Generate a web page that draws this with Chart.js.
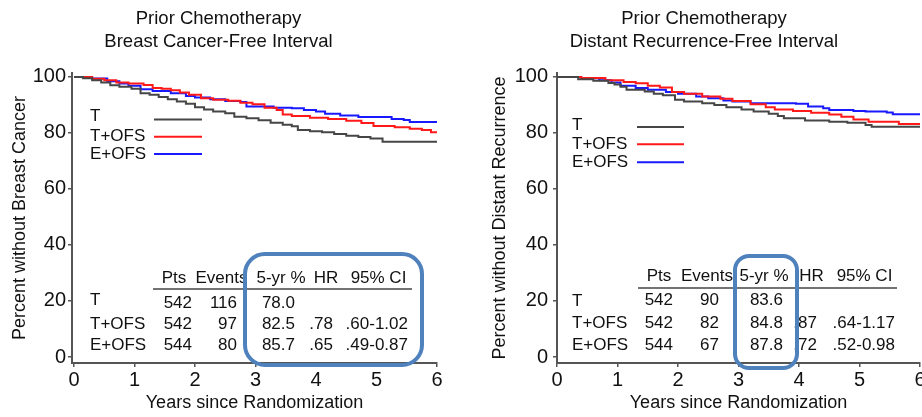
<!DOCTYPE html>
<html lang="en">
<head>
  <meta charset="UTF-8" />
  <title>Prior Chemotherapy - BCFI / DRFI</title>
  <script src="https://cdn.jsdelivr.net/npm/chart.js"></script>
  <style>
    body { margin: 0; background: #fff; overflow: hidden; }
    .wrap { position: relative; width: 922px; height: 417px; overflow: hidden; }
    canvas { position: absolute; top: 0; }
    #bcfiChart { left: 0; }
    #drfiChart { left: 488px; }
  </style>
</head>
<body>
  <div class="wrap">
    <canvas id="bcfiChart" width="474" height="417"></canvas>
    <canvas id="drfiChart" width="474" height="417"></canvas>
  </div>

  <script>
    const groups = ['T', 'T+OFS', 'E+OFS'];
    const xTicks = [0, 1, 2, 3, 4, 5, 6];
    const yTicks = [0, 20, 40, 60, 80, 100];
    const tableHeader = ['Pts', 'Events', '5-yr %', 'HR', '95% CI'];

    // Breast cancer-free interval, KM steps (years, % event-free)
    const bcfiTimeT = [0, 0.15, 0.3, 0.45, 0.6, 0.75, 0.95, 1.1, 1.25, 1.4, 1.55, 1.7, 1.85, 2.0, 2.15, 2.3, 2.5, 2.65, 2.85, 3.05, 3.25, 3.45, 3.6, 3.7, 3.9, 4.1, 4.3, 4.5, 4.7, 4.9, 5.1, 6.0];
    const bcfiSurvT = [100, 99.5, 98.8, 98.0, 97.0, 96.5, 95.8, 94.2, 93.6, 92.8, 92.0, 91.2, 90.4, 89.2, 88.4, 87.6, 87.0, 85.8, 85.2, 84.5, 83.6, 82.9, 82.4, 81.0, 80.6, 80.2, 79.6, 79.0, 78.5, 78.0, 76.8, 76.8];
    const bcfiTimeTOfs = [0, 0.3, 0.5, 0.7, 0.9, 1.15, 1.3, 1.45, 1.6, 1.75, 1.9, 2.1, 2.3, 2.55, 2.75, 2.95, 3.15, 3.35, 3.45, 3.6, 3.9, 4.2, 4.5, 4.75, 4.95, 5.3, 5.55, 5.75, 5.9, 6.0];
    const bcfiSurvTOfs = [100, 99.3, 98.8, 98.0, 97.6, 97.1, 96.0, 95.8, 95.2, 94.4, 93.6, 92.4, 91.8, 91.5, 90.8, 90.2, 89.0, 88.2, 86.6, 86.0, 85.4, 85.0, 84.3, 83.5, 82.5, 82.0, 81.5, 81.0, 80.2, 80.1];
    const bcfiTimeEOfs = [0, 0.3, 0.55, 0.75, 0.9, 1.1, 1.3, 1.6, 1.85, 2.0, 2.25, 2.5, 2.75, 2.85, 3.3, 3.6, 3.8, 4.0, 4.15, 4.4, 4.7, 5.25, 5.45, 5.55, 6.0];
    const bcfiSurvEOfs = [100, 99.4, 98.4, 97.6, 96.8, 95.6, 95.0, 94.2, 93.2, 92.6, 92.0, 91.4, 91.0, 89.4, 89.0, 88.8, 88.2, 87.6, 86.8, 86.2, 85.7, 85.0, 84.6, 83.9, 83.9];

    // Distant recurrence-free interval
    const drfiTimeT = [0, 0.35, 0.6, 0.85, 0.95, 1.05, 1.15, 1.45, 1.6, 1.75, 1.95, 2.1, 2.4, 2.6, 2.8, 3.05, 3.25, 3.5, 3.65, 3.75, 4.1, 4.5, 4.8, 5.1, 5.2, 6.0];
    const drfiSurvT = [100, 99.2, 98.6, 97.8, 97.3, 96.5, 95.4, 94.8, 94.0, 93.4, 91.8, 91.2, 90.6, 90.0, 89.2, 88.4, 87.6, 86.8, 86.0, 85.2, 84.4, 84.0, 83.6, 82.8, 82.2, 82.0];
    const drfiTimeTOfs = [0, 0.4, 0.8, 1.1, 1.3, 1.5, 1.7, 1.9, 2.1, 2.4, 2.7, 2.9, 3.2, 3.45, 3.6, 3.9, 4.2, 4.5, 4.7, 4.9, 5.15, 5.65, 6.0];
    const drfiSurvTOfs = [100, 99.6, 98.8, 98.2, 97.7, 96.8, 96.2, 94.6, 94.0, 93.0, 92.2, 91.4, 90.2, 89.2, 88.4, 87.8, 87.2, 86.6, 85.8, 84.8, 84.0, 83.2, 83.1];
    const drfiTimeEOfs = [0, 0.4, 0.7, 0.9, 1.05, 1.3, 1.5, 1.8, 2.0, 2.3, 2.5, 2.75, 2.9, 3.2, 3.95, 4.15, 4.4, 4.5, 4.9, 5.1, 5.45, 5.55, 6.0];
    const drfiSurvEOfs = [100, 99.5, 98.8, 98.0, 96.8, 96.0, 95.4, 94.6, 94.0, 93.0, 92.4, 91.6, 91.2, 90.6, 90.4, 89.4, 88.8, 88.2, 87.8, 87.6, 87.3, 86.7, 86.7];

    // summary tables
    const bcfiPts = ['542', '542', '544'];
    const bcfiEvents = ['116', '97', '80'];
    const bcfiFiveYr = ['78.0', '82.5', '85.7'];
    const bcfiHR = ['', '.78', '.65'];
    const bcfiCI = ['', '.60-1.02', '.49-0.87'];

    const drfiPts = ['542', '542', '544'];
    const drfiEvents = ['90', '82', '67'];
    const drfiFiveYr = ['83.6', '84.8', '87.8'];
    const drfiHR = ['', '.87', '.72'];
    const drfiCI = ['', '.64-1.17', '.52-0.98'];

    const FONT = 'Arial, "Liberation Sans", sans-serif';
    const lineColors = ['rgb(70,70,70)', 'rgb(255,25,25)', 'rgb(25,25,255)'];
    const axisColor = '#555';
    const boxColor = 'rgb(79,129,189)';

    // legend + table + highlight box, drawn on top of the plot
    const notesPlugin = {
      id: 'notes',
      afterDraw(chart, args, o) {
        const ctx = chart.ctx;
        ctx.save();
        ctx.font = '17px ' + FONT;
        ctx.fillStyle = '#111';
        ctx.textBaseline = 'middle';

        // legend
        groups.forEach((g, i) => {
          ctx.textAlign = 'left';
          ctx.fillText(g, o.legendX, o.legendTextY[i]);
          ctx.strokeStyle = lineColors[i];
          ctx.lineWidth = 2;
          ctx.beginPath();
          ctx.moveTo(o.legendLine[0], o.legendLineY[i]);
          ctx.lineTo(o.legendLine[1], o.legendLineY[i]);
          ctx.stroke();
        });

        // table header and rule
        ctx.textAlign = 'center';
        tableHeader.forEach((h, j) => ctx.fillText(h, o.headX[j], o.headY));
        ctx.strokeStyle = '#444';
        ctx.lineWidth = 1.5;
        ctx.beginPath();
        ctx.moveTo(o.rule[0], o.ruleY);
        ctx.lineTo(o.rule[1], o.ruleY);
        ctx.stroke();

        // table rows
        groups.forEach((g, i) => {
          ctx.textAlign = 'left';
          ctx.fillText(g, o.legendX, o.labelY[i]);
          ctx.textAlign = 'right';
          o.columns.forEach((col, j) => ctx.fillText(col[i], o.dataX[j], o.rowY[i]));
        });

        // rounded highlight box
        const b = o.box;
        ctx.strokeStyle = boxColor;
        ctx.lineWidth = 4;
        ctx.beginPath();
        ctx.roundRect(b.x, b.y, b.w, b.h, b.r);
        ctx.stroke();
        ctx.restore();
      }
    };

    function makePanel(id, cfg) {
      return new Chart(document.getElementById(id), {
        type: 'line',
        data: {
          datasets: cfg.series.map((s, i) => ({
            label: groups[i],
            data: s[0].map((t, k) => ({ x: t, y: s[1][k] })),
            borderColor: lineColors[i],
            borderWidth: 2,
            pointRadius: 0,
            stepped: true,
            fill: false
          }))
        },
        options: {
          responsive: false,
          animation: false,
          devicePixelRatio: 1,
          layout: { padding: { right: cfg.padRight } },
          plugins: {
            legend: { display: false },
            tooltip: { enabled: false },
            title: {
              display: true,
              text: cfg.title,
              color: '#111',
              font: { family: FONT, size: 18.5, weight: 'normal', lineHeight: 1.24 },
              padding: { top: 7.5, bottom: 19.5 }
            },
            notes: cfg.notes
          },
          scales: {
            x: {
              type: 'linear',
              min: cfg.xMin,
              max: 6,
              afterFit: s => { s.height = 54; },
              afterBuildTicks: s => { s.ticks = xTicks.map(v => ({ value: v })); },
              ticks: { color: '#111', font: { family: FONT, size: 20 }, padding: 1, maxRotation: 0 },
              grid: { display: true, drawOnChartArea: false, drawTicks: true, tickLength: 4, color: axisColor, lineWidth: 1.5 },
              border: { display: true, color: axisColor, width: 2 },
              title: {
                display: true,
                text: 'Years since Randomization',
                color: '#111',
                font: { family: FONT, size: 18 },
                padding: { top: 0, bottom: 3 }
              }
            },
            y: {
              min: -2.14,
              max: 101.43,
              afterFit: s => { s.width = cfg.yWidth; },
              afterBuildTicks: s => { s.ticks = yTicks.map(v => ({ value: v })); },
              ticks: { color: '#111', font: { family: FONT, size: 20 }, padding: cfg.yTickPad },
              grid: { display: true, drawOnChartArea: false, drawTicks: true, tickLength: 4, color: axisColor, lineWidth: 1.5 },
              border: { display: true, color: axisColor, width: 2 },
              title: {
                display: true,
                text: cfg.yTitle,
                color: '#111',
                font: { family: FONT, size: 18 },
                padding: { top: cfg.yTitlePad, bottom: 0 }
              }
            }
          }
        },
        plugins: [notesPlugin]
      });
    }

    makePanel('bcfiChart', {
      title: ['Prior Chemotherapy', 'Breast Cancer-Free Interval'],
      yTitle: 'Percent without Breast Cancer',
      series: [[bcfiTimeT, bcfiSurvT], [bcfiTimeTOfs, bcfiSurvTOfs], [bcfiTimeEOfs, bcfiSurvEOfs]],
      xMin: -0.033,
      padRight: 37,
      yWidth: 72,
      yTickPad: 2,
      yTitlePad: 9.2,
      notes: {
        legendX: 90,
        legendTextY: [116.5, 136, 154],
        legendLine: [154, 202],
        legendLineY: [119.5, 136.7, 154],
        headX: [174, 221.5, 281, 326, 378.5],
        headY: 278,
        rule: [153, 412],
        ruleY: 289,
        labelY: [300, 324.5, 345.5],
        rowY: [303.5, 324.5, 345.5],
        dataX: [192, 237, 295, 333, 408],
        columns: [bcfiPts, bcfiEvents, bcfiFiveYr, bcfiHR, bcfiCI],
        box: { x: 245, y: 254, w: 177, h: 111, r: 20 }
      }
    });

    makePanel('drfiChart', {
      title: ['Prior Chemotherapy', 'Distant Recurrence-Free Interval'],
      yTitle: 'Percent without Distant Recurrence',
      series: [[drfiTimeT, drfiSurvT], [drfiTimeTOfs, drfiSurvTOfs], [drfiTimeEOfs, drfiSurvEOfs]],
      xMin: 0,
      padRight: 42,
      yWidth: 69,
      yTickPad: 5,
      yTitlePad: 1.2,
      notes: {
        legendX: 84,
        legendTextY: [125, 144, 162],
        legendLine: [149, 196],
        legendLineY: [127, 144.3, 162.3],
        headX: [171, 219, 276, 323.5, 376.5],
        headY: 276,
        rule: [150, 409],
        ruleY: 288,
        labelY: [301, 323.3, 345],
        rowY: [300.5, 323.3, 345],
        dataX: [185, 231, 295, 329, 407],
        columns: [drfiPts, drfiEvents, drfiFiveYr, drfiHR, drfiCI],
        box: { x: 247, y: 256, w: 62, h: 112, r: 14 }
      }
    });
  </script>
</body>
</html>
